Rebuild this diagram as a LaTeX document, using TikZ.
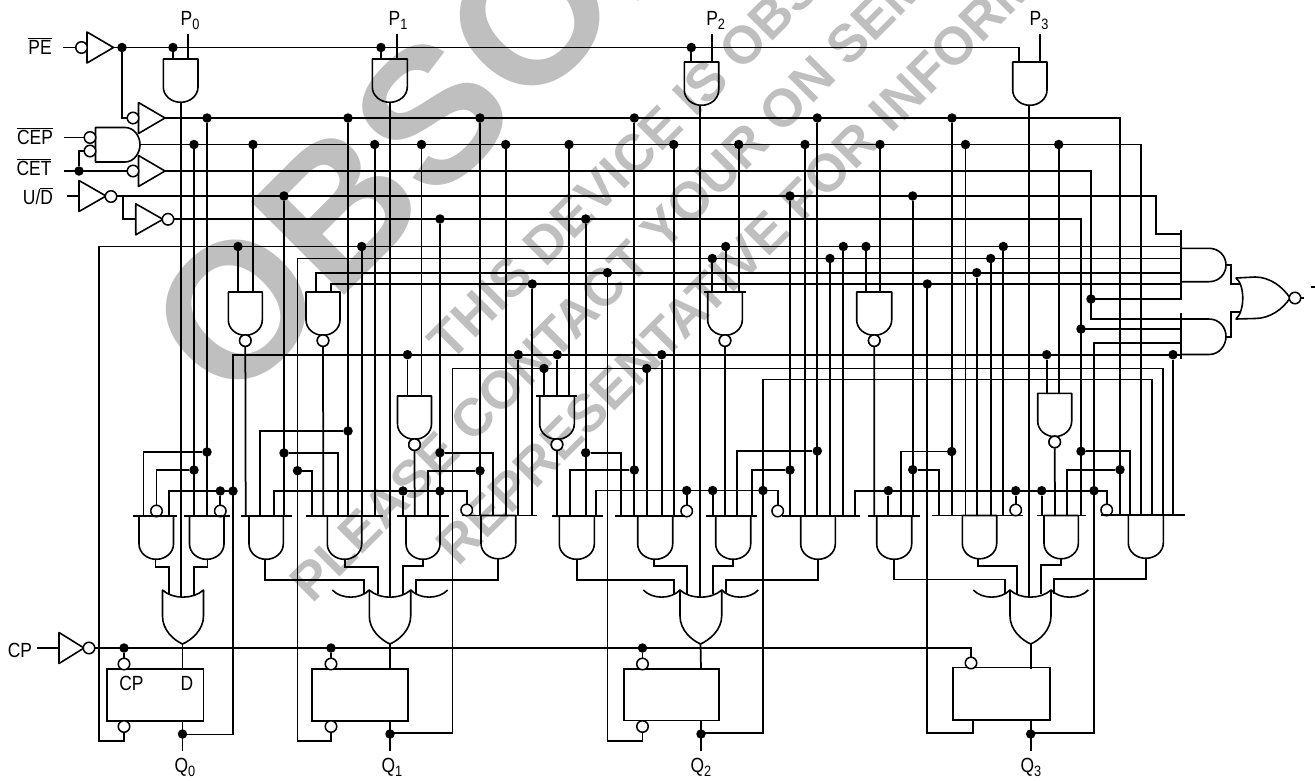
\documentclass[tikz,border=0pt]{standalone}
\usepackage{fontspec}
\setmainfont[FakeStretch=0.85]{Liberation Sans}
\newfontfamily\wmf{Liberation Sans}
\newcount\jc
\definecolor{wmgray}{HTML}{BFBFBF}
\tikzset{
  wire/.style={line width=1.75pt,line join=miter,line cap=butt},
  gate/.style={line width=1.6pt,line join=round},
  bar/.style={line width=1.9pt},
  jn/.style={circle,fill=black,draw=none,inner sep=0pt,minimum size=9.5pt},
  bub/.style={circle,draw=black,fill=white,line width=1.5pt,inner sep=0pt,minimum size=11.5pt},
  ffbox/.style={draw=black,line width=1.6pt,inner sep=0pt,outer sep=0pt},
  lab/.style={inner sep=0pt,font=\fontsize{20.5}{21}\selectfont},
  wm/.style={text=wmgray,inner sep=0pt,anchor=base west,rotate=45,font=\wmf\bfseries\fontsize{53}{54}\selectfont},
}
\newcommand\J[2]{\global\advance\jc by 1 \node[jn] (j\the\jc) at (#1,#2) {};}
\newcommand\VJ[3]{\J{#1}{#2}\coordinate (b\the\jc) at (#1,#3); \draw[wire] (j\the\jc) -- (b\the\jc);}
\newcommand\BR[4]{\J{#1}{#2}\coordinate (b\the\jc) at (#3,#4); \draw[wire] (j\the\jc) -| (b\the\jc);}
% AND gate: name, x1, x2, ytop
\newcommand\gand[4]{%
  \pgfmathsetmacro\gc{(#2+#3)/2}\pgfmathsetmacro\gw{(#3-#2)*0.275}%
  \pgfmathsetmacro\ga{#4+28}\pgfmathsetmacro\gb{#4+43.3}\pgfmathsetmacro\gm{#4+36.5}%
  \coordinate (#1-o) at (\gc,\gb);
  \draw[gate] (#2,#4) -- (#2,\ga) .. controls (#2,\gm) and (\gc-\gw,\gb) .. (\gc,\gb)
     .. controls (\gc+\gw,\gb) and (#3,\gm) .. (#3,\ga) -- (#3,#4) -- cycle;}
\newcommand\gnand[4]{\gand{#1}{#2}{#3}{#4}\pgfmathsetmacro\gd{#4+48.6}\node[bub] (#1-n) at (\gc,\gd) {};}
% OR gate: name, ext left, xl, xr, ext right, tip
\newcommand\gor[6]{%
  \coordinate (#1-o) at (#6,644);
  \draw[gate] (#3,590) .. controls (#3+10,599.5) and (#4-10,599.5) .. (#4,590) -- (#4,616)
    .. controls (#4,630) and (#6+9,640) .. (#6,644) .. controls (#6-9,640) and (#3,630) .. (#3,616) -- cycle;
  \ifx&#2&\else
  \draw[gate] (#2,590) .. controls (#2+9,599.5) and (#3-9,599.5) .. (#3,590);
  \draw[gate] (#4,590) .. controls (#4+9,599.5) and (#5-9,599.5) .. (#5,590);
  \fi}
% triangle: name, x, y, width
\newcommand\buf[4]{\coordinate (#1-o) at (#2+#4,#3);
  \draw[gate] (#2,#3-15.5) -- (#2+#4,#3) -- (#2,#3+15.5) -- cycle;}
\newcommand\lbs[2]{#1\raisebox{-4.5pt}{\fontsize{15}{16}\selectfont #2}}
\newcommand\ovl[1]{$\overline{\mbox{#1}}$}
\begin{document}
\begin{tikzpicture}[x=1pt,y=-1pt]
\useasboundingbox (0,0) rectangle (1315,780);
\fill[white] (0,0) rectangle (1315,780);
\begin{scope}
\clip (0,0) rectangle (1315,780);
\node[wm,font=\wmf\bfseries\fontsize{192}{192}\selectfont] (wm0) at (230,410) {OBSOLETE};
\node[wm] (wm1) at (450,364) {THIS DEVICE IS OBSOLETE};
\node[wm] (wm2) at (312,605) {PLEASE CONTACT YOUR ON SEMICONDUCTOR};
\node[wm] (wm3) at (458,568) {REPRESENTATIVE FOR INFORMATION};
\end{scope}

% input section
\buf{pe}{87}{47.5}{26.5}
\node[bub] (pe-n) at (81.5,47.5) {};
\coordinate (pe-i) at (63,47.5);
\draw[wire] (pe-i) -- (pe-n);
\buf{bb}{138.5}{118}{26.5}
\node[lab,anchor=base] (tPE) at (40,54) {\ovl{PE}};
\node[lab,anchor=base] (tCEP) at (35,144) {\ovl{CEP}};
\node[lab,anchor=base] (tCET) at (34,175) {\ovl{CET}};
\node[lab,anchor=base] (tUD) at (38,204) {U/\ovl{D}};
\node[lab,anchor=base] (tCP) at (20,657) {CP};
\draw[gate] (95.5,127.5) -- (125,127.5) .. controls (134,127.5) and (140,136) .. (140,144.7)
   .. controls (140,153) and (134,162) .. (125,162) -- (95.5,162) -- cycle;
\coordinate (ce-o) at (140,144.5);
\coordinate (cep-i) at (64,137.5);
\coordinate (cet-i) at (64,171);
\buf{cet}{138.5}{171}{26.5}
\coordinate (ud-i) at (67,196);
\buf{ud}{79}{196}{27}
\buf{ud2}{135.7}{219.3}{27.3}
\coordinate (cp-i) at (37,648);
\buf{cp}{59}{648}{25}

% long buses
\draw[wire] (pe-o) -- (1019.3,47.5) -- (1019.3,62);
\draw[wire] (bb-o) -- (1120,118) -- (1120,516);
\draw[wire] (ce-o) -- (1141,144.5) -- (1141,516);
\draw[wire] (cet-o) -- (1091,171) -- (1091,319) -- (1181,319);
\draw[wire] (116,196) -- (1156,196) -- (1156,234) -- (1181,234);
\draw[wire] (173,219) -- (1081,219) -- (1081,516);
\draw[wire] (124,732) -- (124,741) -- (99,741) -- (99,246.5) -- (1181,246.5);
\draw[wire] (331,731) -- (331,741) -- (297.5,741) -- (297.5,258.5) -- (1181,258.5);
\draw[wire] (642.5,730) -- (642.5,741) -- (607.5,741) -- (607.5,272.7);
\draw[wire] (316,292) -- (316,272.7) -- (1181,272.7);
\draw[wire] (331,292) -- (331,284) -- (1181,284);
\draw[wire] (182.5,734.5) -- (233,734.5) -- (233,354.7) -- (1181,354.7);
\draw[wire] (390,733) -- (452.5,733) -- (452.5,368.5) -- (1163,368.5) -- (1163,516);
\draw[wire] (701,733) -- (763,733) -- (763,379.5) -- (1152,379.5) -- (1152,516);
\draw[wire] (973,720) -- (973,733) -- (927.3,733) -- (927.3,284);
\draw[wire] (1030.7,733) -- (1094,733) -- (1094,342.7) -- (1181,342.7);
\draw[wire] (1091,299) -- (1181,299);
\draw[wire] (1081,329) -- (1181,329);
\draw[wire] (94,648) -- (971,648) -- (971,658);

% input wiring
\J{122}{47.5}
\draw[wire] (j\the\jc) |- (128,118);
\draw[wire] (cep-i) -- (85,137.5);
\draw[wire] (cet-i) -- (128,171);
\J{79}{171}
\draw[wire] (j\the\jc) |- (85,151);
\draw[wire] (ud-i) -- (79,196);
\draw[wire] (122.7,196) -- (122.7,219.3) -- (135.7,219.3);
\draw[wire] (cp-i) -- (59,648);
\node[bub] (n1) at (133,118) {};
\node[bub] (n2) at (90,137.5) {};
\node[bub] (n3) at (90,151) {};
\node[bub] (n4) at (133,171) {};
\node[bub] (n5) at (111,196.5) {};
\node[bub] (n6) at (168,219.3) {};
\node[bub] (n7) at (89,648) {};

% P inputs
\J{173}{47.5}\draw[wire] (j\the\jc) -- (173,59);
\J{381}{47.5}\draw[wire] (j\the\jc) -- (381,59);
\J{691.3}{47.5}\draw[wire] (j\the\jc) -- (691.3,62);
\coordinate (p0i) at (188.3,34); \draw[wire] (p0i) -- (188.3,59);
\coordinate (p1i) at (396.7,34); \draw[wire] (p1i) -- (396.7,59);
\coordinate (p2i) at (711.7,34); \draw[wire] (p2i) -- (711.7,62);
\coordinate (p3i) at (1039.7,34); \draw[wire] (p3i) -- (1039.7,62);
\gand{P0}{163.3}{198}{59}
\gand{P1}{372.3}{407.3}{59}
\gand{P2}{684.3}{718.7}{62}
\gand{P3}{1012.7}{1047}{62}
\draw[wire] (181,102) -- (181,597);
\draw[wire] (390,102) -- (390,597);
\draw[wire] (699.7,105) -- (699.7,597);
\draw[wire] (1029.3,105) -- (1029.3,597);
\node[lab,anchor=base] (tP0) at (190,25) {\lbs{P}{0}};
\node[lab,anchor=base] (tP1) at (398,25) {\lbs{P}{1}};
\node[lab,anchor=base] (tP2) at (715.7,25) {\lbs{P}{2}};
\node[lab,anchor=base] (tP3) at (1039,25) {\lbs{P}{3}};

% drops from buses
\foreach \x/\y in {207/516,348/516,480/516,634.3/516,817.3/516,952/515} {\VJ{\x}{118}{\y}}
\foreach \x/\y in {194/516,253/292,374.7/516,421.5/396,505.7/516,569/396,673.7/516,738.7/292,805/516,880/292,965.5/515,1058.7/393.3} {\VJ{\x}{144.5}{\y}}
\foreach \x in {284,790,912.7} {\VJ{\x}{196}{516}}
\foreach \x in {440,585.7} {\VJ{\x}{219}{516}}
\foreach \x/\y in {238/292,361.7/516,725.7/292,843.3/516,866/292,1003.3/515} {\VJ{\x}{246.5}{\y}}
\foreach \x/\y in {712.3/292,830/516,990.7/515} {\VJ{\x}{258.5}{\y}}
\J{607.5}{272.7}
\VJ{976.7}{272.7}{515}
\VJ{532.3}{284}{516}
\J{927.3}{284}
\foreach \x/\y in {407.5/396,518.3/516,557.3/396,661.7/516,1046.7/393.3,1173/516} {\VJ{\x}{354.7}{\y}}
\VJ{544}{368.5}{396}
\VJ{646.7}{368.5}{516}
\J{1091}{299}
\J{1081}{329}

% NAND gates
\gnand{N1}{228.3}{262.3}{292}
\gnand{N2}{306}{340}{292}
\gnand{N3}{397.5}{431.5}{396}
\gnand{N4}{539.7}{574.3}{396}
\gnand{N5}{707.7}{742.3}{292}
\gnand{N6}{856.7}{891.7}{292}
\gnand{N7}{1037.7}{1071.7}{393.3}
\draw[wire] (N1-n) -- (245.7,516);
\draw[wire] (N2-n) -- (323.3,516);
\draw[wire] (N3-n) -- (414.7,516);
\draw[wire] (N4-n) -- (557,516);
\draw[wire] (N5-n) -- (725,516);
\draw[wire] (N6-n) -- (874.3,516);
\draw[wire] (N7-n) -- (1055,515);
\foreach \n in {N1,N2,N3,N4,N5,N6,N7} {\node[bub] at (\n-n) {};}
\draw[bar] (536,396) -- (577.3,396);
\draw[bar] (704.3,292) -- (745.7,292);

% branches
\BR{207}{452}{143.5}{516}
\BR{194}{470}{156.5}{506}
\draw[wire] (233,491) -- (169,491) -- (169,516);
\J{233}{491}
\J{220.3}{491}\draw[wire] (j\the\jc) -- (220.3,506);
\BR{348}{431}{260}{516}
\BR{284}{453}{337.7}{516}
\BR{297.5}{470.7}{312.3}{516}
\draw[wire] (274,516) -- (274,491) -- (466.7,491) -- (466.7,505);
\J{403}{491}\draw[wire] (j\the\jc) -- (403,516);
\J{440}{491}
\BR{440}{452.7}{493.3}{516}
\BR{480}{470.7}{428.3}{516}
\BR{634.3}{470}{570}{516}
\BR{585.7}{452.7}{621}{516}
\draw[wire] (596,516) -- (596,490.5) -- (777.7,490.5) -- (777.7,505);
\J{686.7}{490.5}\draw[wire] (j\the\jc) -- (686.7,505);
\J{712.7}{490.5}\draw[wire] (j\the\jc) -- (712.7,516);
\J{763}{490.5}
\BR{817.3}{451}{737.3}{516}
\BR{790}{470}{751.7}{516}
\draw[wire] (855,516) -- (855,490.7) -- (1106.7,490.7) -- (1106.7,505);
\J{888.3}{490.7}\draw[wire] (j\the\jc) -- (888.3,516);
\J{1015.7}{490.7}\draw[wire] (j\the\jc) -- (1015.7,505);
\J{1041.7}{490.7}\draw[wire] (j\the\jc) -- (1041.7,515);
\J{1094}{490.7}
\BR{951.7}{451.5}{901}{516}
\BR{912.7}{469.7}{939.3}{515}
\BR{1120}{469.7}{1067.3}{515}
\BR{1081}{451.3}{1130}{515}
\foreach \x/\y in {156.5/511,220.3/511,466.7/510,686.7/511,777.7/511,1015.7/510,1106.7/510} {\node[bub] at (\x,\y) {};}

% AND row
\foreach \n/\a/\b/\p/\q/\t in {
  A/139/173.5/133/177/516, B/189.5/224/184/230/516,
  C/249/283.3/241/291.7/516, D/327.3/361.7/306/382.7/516,
  E/406/440/397.3/449.3/516, F/481/515.7/461.7/537.3/515.5,
  G/559.3/594.3/551.7/602.7/516, H/637.7/672.7/615/685/516,
  I/715.7/750.7/706/757.3/516, J/800.7/835.3/781.7/860/516,
  K/876.7/911.7/868.3/920/516, L/962.3/996.7/931.7/1022.7/515.5,
  M/1044/1078.3/1036.7/1086/515.5, N/1128.3/1163.3/1100.7/1185/515} {
  \gand{g\n}{\a}{\b}{\t}
  \draw[bar] (\p,\t) -- (\q,\t);
}
% AND outputs to OR gates
\draw[wire] (155.5,559) |- (169,567) -- (169,595);
\draw[wire] (207.5,559) |- (194,567) -- (194,595);
\draw[wire] (265.3,559) |- (364.3,580) -- (364.3,594);
\draw[wire] (345,559) |- (377.7,567) -- (377.7,594);
\draw[wire] (423.3,559) |- (402.7,566) -- (402.7,594);
\draw[wire] (498.3,559) |- (416,580) -- (416,594);
\draw[wire] (576.7,559) |- (674.3,580) -- (674.3,594);
\draw[wire] (654.3,559) |- (687.3,566) -- (687.3,594);
\draw[wire] (733.3,559) |- (712.7,566) -- (712.7,594);
\draw[wire] (818,559) |- (726,580) -- (726,594);
\draw[wire] (894,559) |- (1005,579.5) -- (1005,594);
\draw[wire] (978.3,559) |- (1016.7,566) -- (1016.7,594);
\draw[wire] (1061.3,559) |- (1041,565) -- (1041,594);
\draw[wire] (1145.7,559) |- (1054.3,578.7) -- (1054.3,594);
\gor{o0}{}{162.5}{203.5}{}{182.5}
\gor{o1}{332.3}{369.3}{410.7}{447.7}{390}
\gor{o2}{643.3}{680}{721.7}{758.3}{700.5}
\gor{o3}{973.3}{1010}{1051}{1088.3}{1030.7}

% flip-flops
\node[ffbox,minimum width=96.5pt,minimum height=52pt] (ff0) at (155.25,695) {};
\node[ffbox,minimum width=96pt,minimum height=52pt] (ff1) at (360,695) {};
\node[ffbox,minimum width=95.3pt,minimum height=51.5pt] (ff2) at (671.6,694.7) {};
\node[ffbox,minimum width=97pt,minimum height=52.3pt] (ff3) at (1001.5,693.8) {};
\node[lab,anchor=base] (tCPi) at (131.5,690) {CP};
\node[lab,anchor=base] (tD) at (187,690) {D};
\foreach \x/\q in {182.5/0,390/1,701/2,1030.7/3} {
  \draw[wire] (o\q-o) -- (\x,669);
  \coordinate (qe\q) at (\x,751);
  \draw[wire] (\x,720) -- (qe\q);
  \node[jn] (qd\q) at (\x,734) {};
}
\foreach \x in {124,331,642.5} {\J{\x}{648}\draw[wire] (j\the\jc) -- (\x,660);
  \node[bub] at (\x,664) {}; \node[bub] at (\x,726.5) {};}
\node[bub] (ck3) at (971,663) {};
\node[lab,anchor=base] (tQ0) at (185,772) {\lbs{Q}{0}};
\node[lab,anchor=base] (tQ1) at (392,772) {\lbs{Q}{1}};
\node[lab,anchor=base] (tQ2) at (701,772) {\lbs{Q}{2}};
\node[lab,anchor=base] (tQ3) at (1031,772) {\lbs{Q}{3}};

% output gates
\draw[bar] (1181,230) -- (1181,299.5);
\draw[bar] (1181,313) -- (1181,359);
\draw[gate] (1181,248.3) -- (1209,248.3) .. controls (1219,248.3) and (1226,256) .. (1226,265)
   .. controls (1226,274) and (1219,281.7) .. (1209,281.7) -- (1181,281.7);
\draw[gate] (1181,319) -- (1209,319) .. controls (1219,319) and (1226,327) .. (1226,336.5)
   .. controls (1226,346) and (1219,354.5) .. (1209,354.5) -- (1181,354.5);
\draw[wire] (1226,265) -- (1231,265) -- (1231,284) -- (1241,284);
\draw[wire] (1226,336.7) -- (1231,336.7) -- (1231,311.7) -- (1241,311.7);
\draw[gate] (1236,278) .. controls (1245,285) and (1245,311) .. (1236,319)
   -- (1255,318.5) .. controls (1270,318.5) and (1283,309) .. (1290,298)
   .. controls (1283,287) and (1270,277) .. (1255,277) -- cycle;
\coordinate (nor-e) at (1304,298);
\draw[wire] (1290,298) -- (nor-e);
\node[bub] (nor-n) at (1295,298) {};
\coordinate (st1) at (1311,286.7); \coordinate (st2) at (1315,286.7);
\draw[wire] (st1) -- (st2);
\end{tikzpicture}
\end{document}
